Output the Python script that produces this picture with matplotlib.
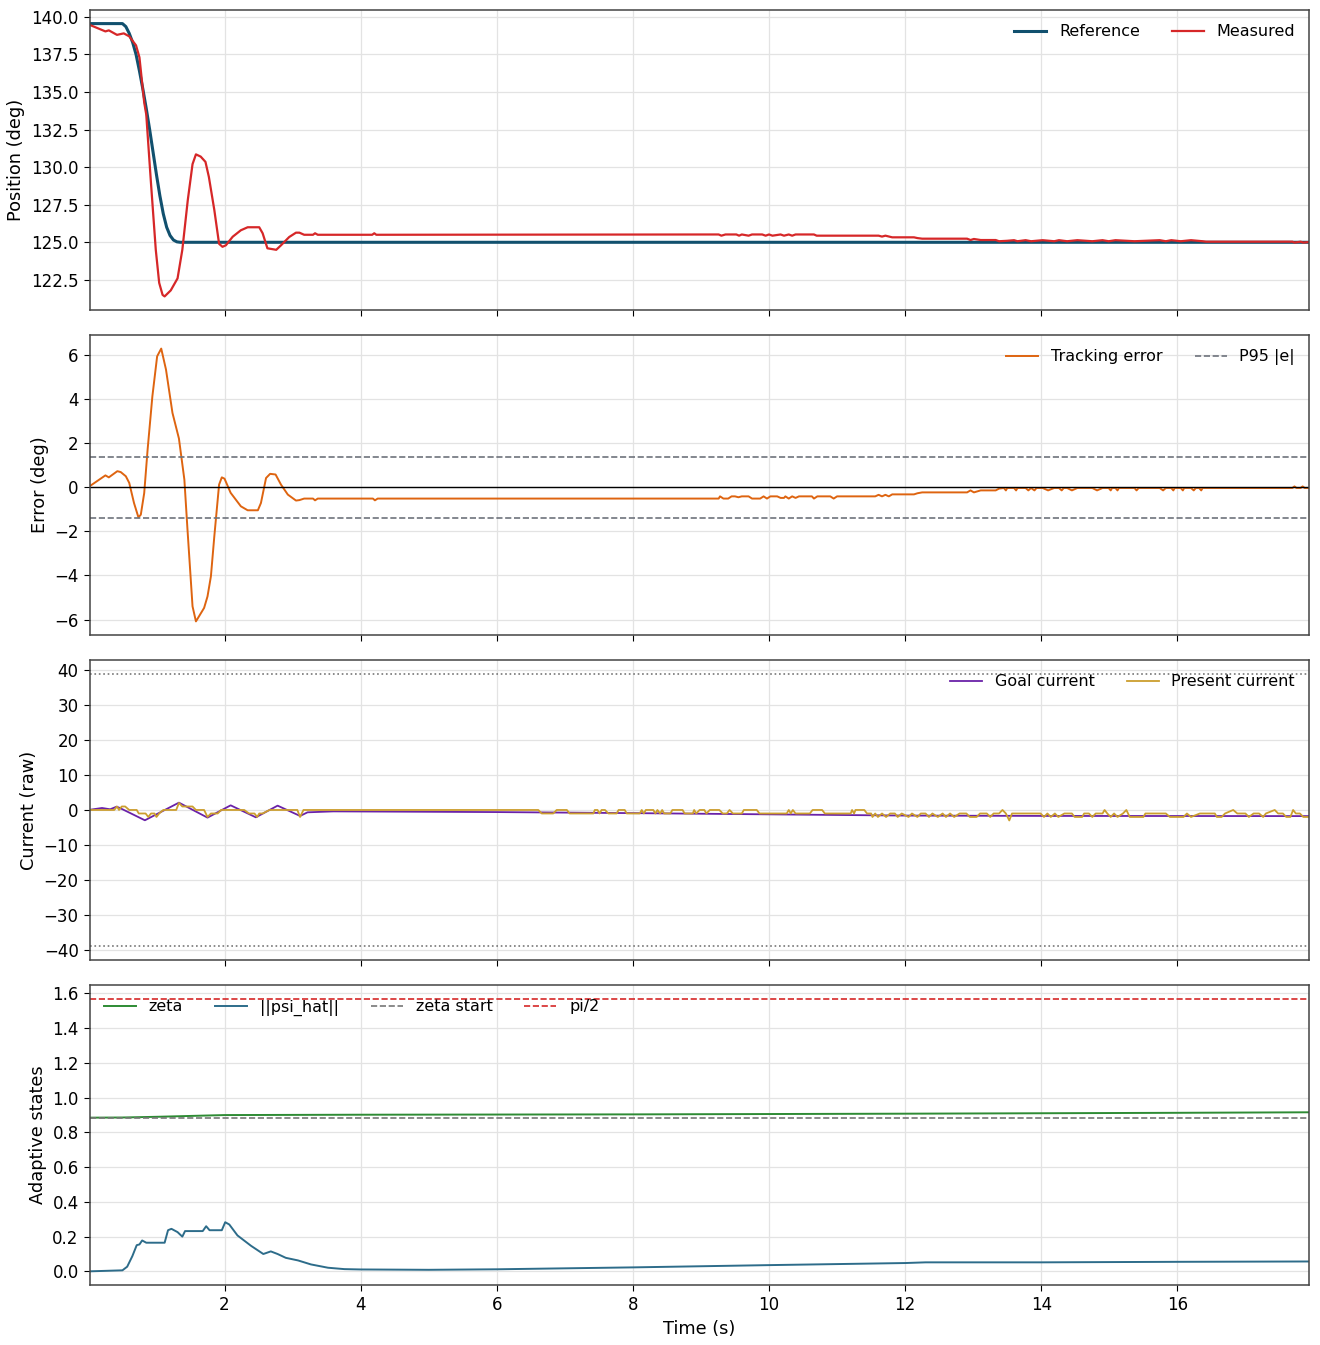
import matplotlib
matplotlib.use("Agg")
import matplotlib.pyplot as plt

# ---------------------------------------------------------------------------
# DATA
# ---------------------------------------------------------------------------
T_START, T_END = 0.02, 17.94

# position reference trajectory
ref_t = [0.0, 0.5, 0.55, 0.6, 0.65, 0.7, 0.75, 0.8, 0.85, 0.9, 0.95, 1.0, 1.05,
         1.1, 1.15, 1.2, 1.25, 1.3, 1.35, T_END]
ref_pos = [139.55, 139.55, 139.35, 138.9, 138.3, 137.5, 136.4, 135.2, 133.9, 132.5, 131.0, 129.5, 128.1,
           126.9, 126.0, 125.45, 125.15, 125.03, 125.0, 125.0]

# measured position
meas_t = [0.0, 0.25, 0.30, 0.42, 0.52, 0.60, 0.70, 0.75, 0.82, 0.85, 0.92, 0.99,
          1.04, 1.09, 1.12, 1.21, 1.31, 1.38, 1.46, 1.53, 1.58, 1.65, 1.72, 1.77,
          1.85, 1.92, 1.97, 2.02, 2.12, 2.24, 2.34, 2.51, 2.56, 2.63, 2.76, 2.83,
          2.95, 3.05, 3.10, 3.17, 3.30, 3.33, 3.37, 4.17, 4.20, 4.23,
          9.26, 9.30, 9.36, 9.52, 9.56, 9.60, 9.70, 9.75, 9.90, 9.95, 10.0, 10.05,
          10.17, 10.22, 10.29, 10.34, 10.39, 10.66, 10.70, 10.95, 11.0, 11.61,
          11.66, 11.71, 11.81, 12.13, 12.18, 12.25, 12.91, 12.96, 13.01, 13.11,
          13.33, 13.38, 13.50, 13.60, 13.65, 13.77, 13.85, 14.02, 14.19, 14.26,
          14.38, 14.53, 14.75, 14.90, 14.99, 15.09, 15.37, 15.74, 15.83, 15.91,
          16.05, 16.20, 16.37, 16.42, 17.69, 17.72, 17.81, 17.85, T_END]
meas_pos = [139.5, 139.03, 139.1, 138.8, 138.9, 138.7, 138.1, 137.3, 134.3, 133.5, 128.9, 124.5,
            122.3, 121.5, 121.4, 121.8, 122.6, 124.5, 127.8, 130.2, 130.85, 130.7, 130.35, 129.35,
            127.15, 124.9, 124.7, 124.8, 125.37, 125.8, 126.0, 126.0, 125.6, 124.6, 124.5, 124.8,
            125.35, 125.64, 125.64, 125.5, 125.5, 125.6, 125.5, 125.5, 125.6, 125.5,
            125.52, 125.44, 125.52, 125.52, 125.44, 125.52, 125.44, 125.52, 125.52, 125.44, 125.52, 125.44,
            125.52, 125.44, 125.52, 125.44, 125.52, 125.52, 125.44, 125.44, 125.44, 125.44,
            125.38, 125.44, 125.33, 125.33, 125.28, 125.24, 125.24, 125.15, 125.22, 125.15,
            125.15, 125.07, 125.1, 125.14, 125.07, 125.14, 125.07, 125.14, 125.07, 125.14,
            125.07, 125.14, 125.07, 125.14, 125.07, 125.14, 125.07, 125.14, 125.07, 125.14,
            125.07, 125.14, 125.07, 125.04, 125.04, 124.98, 125.04, 124.98, 125.02]

# tracking error
err_t = [0.0, 0.25, 0.30, 0.425, 0.475, 0.55, 0.60, 0.67, 0.735, 0.77, 0.82, 0.87,
         0.94, 1.01, 1.07, 1.14, 1.235, 1.33, 1.41, 1.456, 1.53, 1.58, 1.70, 1.75,
         1.80, 1.85, 1.92, 1.96, 2.0, 2.09, 2.24, 2.34, 2.49, 2.535, 2.61, 2.67,
         2.75, 2.83, 2.93, 3.05, 3.10, 3.17, 3.30, 3.33, 3.37, 4.18, 4.21, 4.25,
         9.26, 9.28, 9.33, 9.40, 9.45, 9.50, 9.55, 9.60, 9.70, 9.75, 9.87, 9.92,
         9.97, 10.02, 10.12, 10.17, 10.22, 10.24, 10.29, 10.34, 10.39, 10.44, 10.63,
         10.66, 10.71, 10.90, 10.95, 11.0, 11.56, 11.61, 11.66, 11.71, 11.76, 11.81,
         12.13, 12.18, 12.25, 12.91, 12.96, 13.01, 13.11, 13.33, 13.38,
         13.45, 13.48, 13.50, 13.60, 13.63, 13.65, 13.77, 13.81, 13.85, 13.90, 13.93,
         14.02, 14.10, 14.19, 14.26, 14.30, 14.33, 14.38, 14.45, 14.53, 14.75, 14.82,
         14.90, 14.99, 15.02, 15.04, 15.09, 15.12, 15.14, 15.37, 15.40, 15.43, 15.74,
         15.79, 15.83, 15.91, 15.94, 15.96, 16.05, 16.08, 16.10, 16.20, 16.24, 16.27,
         16.32, 16.35, 16.37, 17.69, 17.72, 17.75, 17.81, 17.84, 17.87, T_END]
err_deg = [0.0, 0.53, 0.44, 0.72, 0.68, 0.49, 0.19, -0.72, -1.37, -1.25, -0.27, 1.7,
           4.11, 5.92, 6.27, 5.32, 3.36, 2.2, 0.34, -1.93, -5.4, -6.08, -5.47, -4.95,
           -4.04, -2.23, 0.11, 0.44, 0.38, -0.26, -0.87, -1.05, -1.05, -0.72, 0.41, 0.6,
           0.57, 0.11, -0.34, -0.61, -0.59, -0.52, -0.52, -0.6, -0.52, -0.52, -0.6, -0.52,
           -0.52, -0.42, -0.52, -0.52, -0.42, -0.42, -0.46, -0.42, -0.42, -0.52, -0.52, -0.42,
           -0.52, -0.42, -0.42, -0.49, -0.49, -0.42, -0.52, -0.42, -0.49, -0.42, -0.42,
           -0.52, -0.42, -0.42, -0.52, -0.42, -0.42, -0.35, -0.42, -0.35, -0.42, -0.33,
           -0.33, -0.28, -0.24, -0.24, -0.15, -0.24, -0.15, -0.15, -0.07,
           -0.04, -0.15, -0.04, -0.04, -0.15, -0.04, -0.04, -0.15, -0.04, -0.15, -0.04,
           -0.04, -0.15, -0.04, -0.04, -0.15, -0.04, -0.04, -0.15, -0.04, -0.04, -0.15,
           -0.04, -0.04, -0.15, -0.04, -0.04, -0.15, -0.04, -0.04, -0.15, -0.04, -0.04,
           -0.15, -0.04, -0.04, -0.15, -0.04, -0.04, -0.15, -0.04, -0.04, -0.15, -0.04,
           -0.04, -0.15, -0.04, -0.04, 0.03, -0.04, -0.04, 0.03, -0.04, -0.04]
p95_err = 1.38

# goal current
goal_t = [0.0, 0.2, 0.32, 0.415, 0.47, 0.83, 1.33, 1.75, 2.09, 2.46, 2.78, 3.11,
          3.22, 3.6, 6.0, 8.0, 10.0, 12.0, 14.0, T_END]
goal_cur = [0.0, 0.57, 0.2, 0.95, 0.5, -2.95, 2.1, -2.19, 1.33, -2.1, 1.24, -1.71,
            -0.67, -0.4, -0.6, -0.9, -1.25, -1.6, -1.7, -1.75]

# present current (integer raw units)
pres_t = [0.0, 0.38, 0.42, 0.45, 0.49, 0.54, 0.6, 0.71, 0.74, 0.84, 0.88, 0.92,
          0.97, 1.0, 1.04, 1.1, 1.29, 1.33, 1.38, 1.53, 1.58, 1.70, 1.75, 1.80,
          1.90, 1.95, 2.29, 2.36, 2.44, 2.48, 2.51, 2.56, 2.66, 3.07, 3.11, 3.16,
          6.61, 6.66, 6.83, 6.88, 7.03, 7.07, 7.42, 7.44, 7.48, 7.51, 7.54, 7.59,
          7.64, 7.76, 7.79, 7.88, 7.91, 8.10, 8.13, 8.16, 8.19, 8.30, 8.33, 8.36,
          8.40, 8.43, 8.46, 8.55, 8.58, 8.73, 8.76, 8.88, 8.90, 8.93, 8.98, 9.05,
          9.08, 9.13, 9.27, 9.32, 9.38, 9.42, 9.47, 9.60, 9.63, 9.82, 9.86, 10.26,
          10.29, 10.32, 10.35, 10.39, 10.60, 10.64, 10.78, 10.82, 11.20, 11.22, 11.25,
          11.27, 11.40, 11.44, 11.50, 11.52, 11.56, 11.60, 11.66, 11.72, 11.78, 11.85,
          11.89, 11.95, 12.05, 12.10, 12.18, 12.23, 12.30, 12.35, 12.40, 12.48, 12.55,
          12.60, 12.66, 12.72, 12.80, 12.90, 12.95, 13.05, 13.10, 13.20, 13.25, 13.30,
          13.38, 13.43, 13.48, 13.53, 13.57, 13.99, 14.04, 14.09, 14.14, 14.20, 14.25,
          14.34, 14.45, 14.49, 14.60, 14.63, 14.70, 14.75, 14.80, 14.90, 14.93, 14.97,
          15.02, 15.07, 15.12, 15.20, 15.25, 15.30, 15.50, 15.53, 15.83, 15.89, 16.09,
          16.14, 16.20, 16.33, 16.40, 16.55, 16.58, 16.65, 16.70, 16.82, 16.88, 17.00,
          17.05, 17.12, 17.20, 17.26, 17.30, 17.43, 17.48, 17.55, 17.60, 17.66, 17.70,
          17.74, 17.80, 17.85, T_END]
pres_cur = [0, 0, 1, 0, 1, 1, 0, 0, -1, -1, -2, -1,
            -1, -2, -1, 0, 0, 2, 1, 1, 0, 0, -2, -1,
            -1, 0, 0, -1, -1, -2, -1, -1, 0, 0, -2, 0,
            0, -1, -1, 0, 0, -1, -1, 0, 0, -1, 0, 0,
            -1, -1, 0, 0, -1, -1, 0, -1, 0, 0, -1, 0,
            -1, 0, -1, -1, 0, 0, -1, -1, 0, -1, 0, 0,
            -1, 0, 0, -1, -1, 0, -1, -1, 0, 0, -1, -1,
            0, -1, 0, -1, -1, 0, 0, -1, -1, 0, -1,
            0, 0, -1, -1, -2, -1, -2, -1, -2, -1, -1,
            -2, -1, -2, -1, -2, -1, -1, -2, -1, -2, -1,
            -2, -1, -2, -1, -1, -2, -2, -1, -1, -2, -1,
            -1, 0, -1, -3, -1, -1, -2, -1, -2, -1, -2,
            -1, -1, -2, -2, -1, -1, -2, -1, -1, 0, -1,
            -2, -1, -2, -1, 0, -2, -2, -1, -1, -2, -2,
            -1, -2, -1, -1, -1, -2, -2, -1, 0, -1, -1,
            -2, -1, -1, -2, -1, 0, -1, -1, -2, -2, 0,
            -1, -1, -2, -2]
cur_limit = 39.0

# adaptive states
zeta_t = [0.0, 0.5, 1.0, 1.5, 2.0, 4.0, 8.0, 12.0, 16.0, T_END]
zeta = [0.885, 0.886, 0.89, 0.895, 0.9, 0.902, 0.904, 0.908, 0.913, 0.916]
zeta_start = 0.885
half_pi = 1.5708

psi_t = [0.0, 0.5, 0.57, 0.646, 0.71, 0.75, 0.79, 0.85, 1.12, 1.17, 1.22, 1.31,
         1.38, 1.42, 1.68, 1.73, 1.78, 1.96, 2.01, 2.07, 2.19, 2.39, 2.57, 2.68,
         2.78, 2.90, 3.08, 3.27, 3.52, 3.76, 4.0, 5.0, 6.0, 8.0, 10.0, 12.0, 12.3,
         14.0, 16.0, T_END]
psi_norm = [0.0, 0.006, 0.027, 0.088, 0.151, 0.155, 0.178, 0.165, 0.165, 0.237, 0.245, 0.226,
            0.2, 0.232, 0.232, 0.26, 0.237, 0.237, 0.283, 0.27, 0.207, 0.147, 0.1, 0.115,
            0.1, 0.078, 0.063, 0.04, 0.021, 0.013, 0.011, 0.009, 0.012, 0.023, 0.036, 0.048, 0.052,
            0.052, 0.055, 0.057]

# ---------------------------------------------------------------------------
# STYLE
# ---------------------------------------------------------------------------
plt.rcParams.update({
    "font.size": 12,
    "xtick.labelsize": 12,
    "ytick.labelsize": 12,
    "axes.labelsize": 12.8,
    "legend.fontsize": 11.5,
    "axes.edgecolor": "#444444",
    "axes.linewidth": 1.1,
    "xtick.major.size": 4.5,
    "ytick.major.size": 4.5,
    "legend.frameon": False,
})
GRID = dict(color="#e3e3e3", linewidth=0.9)

fig, axs = plt.subplots(4, 1, figsize=(13.2, 13.45), dpi=100, sharex=True)
fig.subplots_adjust(left=0.068, right=0.992, top=0.9926, bottom=0.0446, hspace=0.083)
ax1, ax2, ax3, ax4 = axs

# position
ax1.plot(ref_t, ref_pos, color="#11506e", lw=2.2, label="Reference")
ax1.plot(meas_t, meas_pos, color="#d62728", lw=1.6, label="Measured")
ax1.set_ylabel("Position (deg)")
ax1.legend(loc="upper right", ncol=2)

# error
ax2.plot(err_t, err_deg, color="#de6410", lw=1.4, label="Tracking error")
ax2.axhline(0, color="black", lw=1.0)
ax2.axhline(p95_err, color="#6e737c", lw=1.2, ls="--", label="P95 |e|")
ax2.axhline(-p95_err, color="#6e737c", lw=1.2, ls="--")
ax2.set_ylabel("Error (deg)")
ax2.legend(loc="upper right", ncol=2)

# current
ax3.plot(goal_t, goal_cur, color="#6a22a8", lw=1.3, label="Goal current")
ax3.plot(pres_t, pres_cur, color="#cc9e2e", lw=1.3, label="Present current")
ax3.axhline(cur_limit, color="#777777", lw=1.2, ls=":")
ax3.axhline(-cur_limit, color="#777777", lw=1.2, ls=":")
ax3.set_ylabel("Current (raw)")
ax3.legend(loc="upper right", ncol=2)

# adaptive states
ax4.plot(zeta_t, zeta, color="#2e8b34", lw=1.4, label="zeta")
ax4.plot(psi_t, psi_norm, color="#2d6c8a", lw=1.4, label="||psi_hat||")
ax4.axhline(zeta_start, color="#777777", lw=1.2, ls="--", label="zeta start")
ax4.axhline(half_pi, color="#d62728", lw=1.2, ls="--", label="pi/2")
ax4.set_ylabel("Adaptive states")
ax4.set_xlabel("Time (s)")
ax4.legend(loc="upper left", ncol=4)

for ax in axs:
    ax.grid(True, **GRID)
    ax.set_axisbelow(True)
ax4.set_xlim(T_START, T_END)

fig.savefig("out.png", dpi=100)
